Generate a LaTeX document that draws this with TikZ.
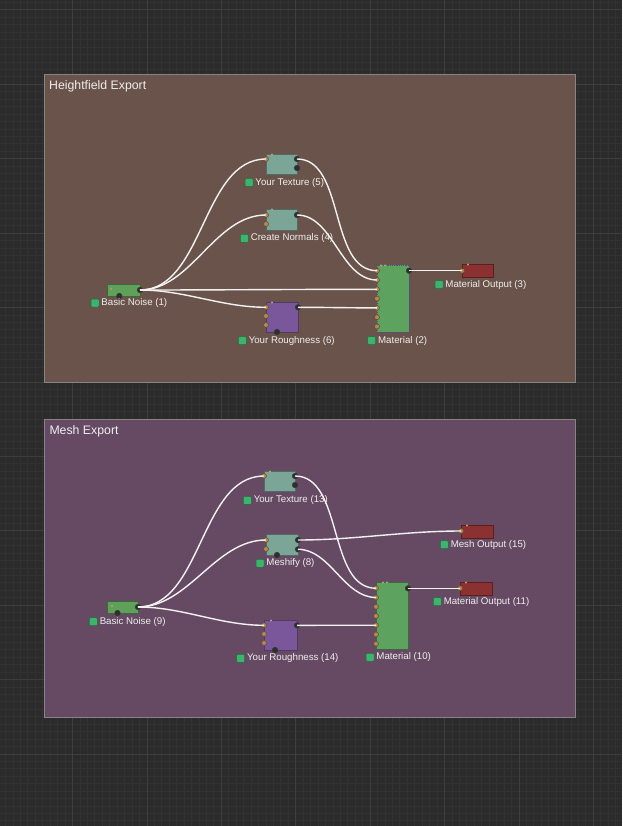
\documentclass[tikz,border=0pt]{standalone}
\usepackage{fontspec}
\setmainfont{Liberation Sans}
\usetikzlibrary{positioning}

\definecolor{bggray}{HTML}{2B2B2B}
\definecolor{gridminor}{HTML}{323232}
\definecolor{gridmajor}{HTML}{3E3E3E}
\definecolor{framebrown}{HTML}{6A534A}
\definecolor{framepurple}{HTML}{664A63}
\definecolor{frameline}{HTML}{858585}
\definecolor{noisegreen}{HTML}{5FA05A}
\definecolor{texteal}{HTML}{7BA596}
\definecolor{roughpurple}{HTML}{7A579B}
\definecolor{matgreen}{HTML}{5DA35F}
\definecolor{outred}{HTML}{8B3131}
\definecolor{portorange}{HTML}{B38653}
\definecolor{portdark}{HTML}{2F2F2F}
\definecolor{taggreen}{HTML}{3DB36E}
\definecolor{labeltext}{HTML}{EEEEEE}
\definecolor{wirewhite}{HTML}{F2F2F2}
\definecolor{selblue}{HTML}{3F5391}

\begin{document}
\begin{tikzpicture}[x=1pt,y=-1pt,
  minorline/.style={draw=gridminor, line width=1pt},
  majorline/.style={draw=gridmajor, line width=1pt},
  frame/.style={draw=frameline, line width=1pt},
  title/.style={anchor=base west, inner sep=0, text=labeltext, font=\fontsize{12.3}{14}\selectfont},
  nodebox/.style={rectangle, inner sep=0, line width=0.8pt, draw=#1!65!black, fill=#1},
  inport/.style={circle, inner sep=0, minimum size=5pt, fill=portorange, draw=portorange!55!black, line width=0.5pt},
  outport/.style={circle, inner sep=0, minimum size=5.5pt, fill=portdark, draw=black!80, line width=0.5pt},
  pin/.style={circle, inner sep=0, minimum size=2.2pt, fill=portorange!80!white},
  tag/.style={rectangle, inner sep=0, minimum size=8pt, rounded corners=1pt, fill=taggreen, draw=taggreen!60!black, line width=0.5pt},
  tagtext/.style={inner sep=0, text=labeltext, font=\fontsize{9.7}{11}\selectfont, text height=0.72em, text depth=0.2em},
  wire/.style={draw=wirewhite, line width=1.4pt, out=0, in=180, looseness=0.9}]

\useasboundingbox (0,0) rectangle (622,826);
\fill[bggray] (0,0) rectangle (622,826);

% grid
\foreach \k in {-9,...,73} \draw[minorline] (72.6+7.44*\k,0) -- ++(0,826);
\foreach \k in {-1,...,109} \draw[minorline] (0,10+7.44*\k) -- ++(622,0);
\foreach \k in {0,...,7} \draw[majorline] (72.6+74.4*\k,0) -- ++(0,826);
\foreach \k in {0,...,10} \draw[majorline] (0,10+74.4*\k) -- ++(622,0);

% frames
\draw[frame, fill=framebrown] (44,75) rectangle (575,382);
\node[title] (hf-title) at (49,90) {Heightfield Export};
\draw[frame, fill=framepurple] (44,419) rectangle (575,717);
\node[title] (mesh-title) at (49.3,434.3) {Mesh Export};

%% Heightfield Export
\node[nodebox=noisegreen, minimum width=33pt, minimum height=12pt] (bn1) at (123.5,290) {};
\node[nodebox=texteal, minimum width=31pt, minimum height=20pt] (tex5) at (281.5,164) {};
\node[nodebox=texteal, minimum width=31pt, minimum height=21pt] (nrm4) at (281.5,219.5) {};
\node[nodebox=roughpurple, minimum width=32pt, minimum height=30pt] (rgh6) at (282,317) {};
\node[nodebox=matgreen, minimum width=32pt, minimum height=67pt, draw=selblue, densely dotted] (mat2) at (393,298.5) {};
\node[nodebox=outred, minimum width=31pt, minimum height=13pt] (out3) at (477.5,270.5) {};

% ports
\node[pin] (bn1-p) at (111,289) {};
\node[outport] (bn1-b) at (119.3,296) {};
\node[outport] (bn1-o) at (140,290) {};
\node[pin] (tex5-p) at (272,154.5) {};
\node[inport] (tex5-i) at (266,159) {};
\node[outport] (tex5-o) at (297,159) {};
\node[outport] (tex5-o2) at (297,168) {};
\node[pin] (nrm4-p) at (272,209.5) {};
\node[inport] (nrm4-i) at (266,215) {};
\node[inport] (nrm4-i2) at (266,224) {};
\node[outport] (nrm4-o) at (297,215) {};
\node[pin] (rgh6-p) at (272,302.5) {};
\node[inport] (rgh6-i) at (266,307.3) {};
\node[inport] (rgh6-i2) at (266,316) {};
\node[inport] (rgh6-i3) at (266,325) {};
\node[outport] (rgh6-b) at (277,332) {};
\node[outport] (rgh6-o) at (298,307.3) {};
\foreach \k in {1,...,7} \node[inport] (mat2-i\k) at (377,261.4+9.3*\k) {};
\node[pin] (mat2-p1) at (381,265.5) {};
\node[pin] (mat2-p2) at (385,265.5) {};
\node[outport] (mat2-o) at (409,270.7) {};
\node[pin] (out3-p) at (468,264.5) {};
\node[inport] (out3-i) at (462,270.7) {};

% labels
\node[tag] (bn1-s) at (95,303) {};
\node[tagtext, right=2pt of bn1-s] (bn1-t) {Basic Noise (1)};
\node[tag] (tex5-s) at (249,182.5) {};
\node[tagtext, right=2pt of tex5-s] (tex5-t) {Your Texture (5)};
\node[tag] (nrm4-s) at (244.3,238.3) {};
\node[tagtext, right=2pt of nrm4-s] (nrm4-t) {Create Normals (4)};
\node[tag] (rgh6-s) at (242.3,340.7) {};
\node[tagtext, right=2pt of rgh6-s] (rgh6-t) {Your Roughness (6)};
\node[tag] (mat2-s) at (371.7,340.5) {};
\node[tagtext, right=2pt of mat2-s] (mat2-t) {Material (2)};
\node[tag] (out3-s) at (439,284.5) {};
\node[tagtext, right=2pt of out3-s] (out3-t) {Material Output (3)};

% wires
\draw[wire] (bn1-o.center) to (tex5-i.center);
\draw[wire] (bn1-o.center) to (nrm4-i.center);
\draw[wire] (bn1-o.center) to (mat2-i3.center);
\draw[wire] (bn1-o.center) to (rgh6-i.center);
\draw[wire] (tex5-o.center) to (mat2-i1.center);
\draw[wire] (nrm4-o.center) to (mat2-i2.center);
\draw[wire] (rgh6-o.center) to (mat2-i5.center);
\draw[wire] (mat2-o.center) to (out3-i.center);

%% Mesh Export
\node[nodebox=noisegreen, minimum width=31pt, minimum height=12pt] (bn9) at (122.5,607) {};
\node[nodebox=texteal, minimum width=31pt, minimum height=20pt] (tex13) at (279.5,481) {};
\node[nodebox=texteal, minimum width=32pt, minimum height=21pt] (msh8) at (282,544.5) {};
\node[nodebox=roughpurple, minimum width=33pt, minimum height=30pt] (rgh14) at (280.5,635) {};
\node[nodebox=matgreen, minimum width=32pt, minimum height=67pt] (mat10) at (392,615.5) {};
\node[nodebox=outred, minimum width=32pt, minimum height=13pt] (out15) at (477,531.5) {};
\node[nodebox=outred, minimum width=32pt, minimum height=13pt] (out11) at (476,588.5) {};

% ports
\node[pin] (bn9-p) at (112,606) {};
\node[outport] (bn9-b) at (117.5,613) {};
\node[outport] (bn9-o) at (138,607) {};
\node[pin] (tex13-p) at (270,471.5) {};
\node[inport] (tex13-i) at (264,476) {};
\node[outport] (tex13-o) at (295,476) {};
\node[outport] (tex13-o2) at (295,485) {};
\node[inport] (msh8-i) at (266,540) {};
\node[inport] (msh8-i2) at (266,549) {};
\node[outport] (msh8-b) at (277,555) {};
\node[outport] (msh8-o) at (298,540) {};
\node[outport] (msh8-o2) at (298,549.3) {};
\node[pin] (rgh14-p) at (271,620.5) {};
\node[inport] (rgh14-i) at (264,625.3) {};
\node[inport] (rgh14-i2) at (264,634) {};
\node[inport] (rgh14-i3) at (264,643) {};
\node[outport] (rgh14-b) at (275,650) {};
\node[outport] (rgh14-o) at (297,625.3) {};
\foreach \k in {1,...,7} \node[inport] (mat10-i\k) at (376,579+9.25*\k) {};
\node[pin] (mat10-p1) at (383,582.5) {};
\node[pin] (mat10-p2) at (387,582.5) {};
\node[outport] (mat10-o) at (408,588.3) {};
\node[pin] (out15-p) at (467,525.5) {};
\node[inport] (out15-i) at (461,531) {};
\node[pin] (out11-p) at (466,582.5) {};
\node[inport] (out11-i) at (460,588.3) {};

% labels
\node[tag] (bn9-s) at (93.3,621.7) {};
\node[tagtext, right=2pt of bn9-s] (bn9-t) {Basic Noise (9)};
\node[tag] (tex13-s) at (247.3,500.3) {};
\node[tagtext, right=2pt of tex13-s] (tex13-t) {Your Texture (13)};
\node[tag] (msh8-s) at (260,563.3) {};
\node[tagtext, right=2pt of msh8-s] (msh8-t) {Meshify (8)};
\node[tag] (rgh14-s) at (240.7,658.3) {};
\node[tagtext, right=2pt of rgh14-s] (rgh14-t) {Your Roughness (14)};
\node[tag] (mat10-s) at (370,657.3) {};
\node[tagtext, right=2pt of mat10-s] (mat10-t) {Material (10)};
\node[tag] (out15-s) at (444.3,544.7) {};
\node[tagtext, right=2pt of out15-s] (out15-t) {Mesh Output (15)};
\node[tag] (out11-s) at (437.3,601.7) {};
\node[tagtext, right=2pt of out11-s] (out11-t) {Material Output (11)};

% wires
\draw[wire] (bn9-o.center) to (tex13-i.center);
\draw[wire] (bn9-o.center) to (msh8-i.center);
\draw[wire] (bn9-o.center) to (rgh14-i.center);
\draw[wire] (tex13-o.center) to (mat10-i1.center);
\draw[wire] (msh8-o.center) to (out15-i.center);
\draw[wire] (msh8-o2.center) to (mat10-i2.center);
\draw[wire] (rgh14-o.center) to (mat10-i5.center);
\draw[wire] (mat10-o.center) to (out11-i.center);
\end{tikzpicture}
\end{document}
